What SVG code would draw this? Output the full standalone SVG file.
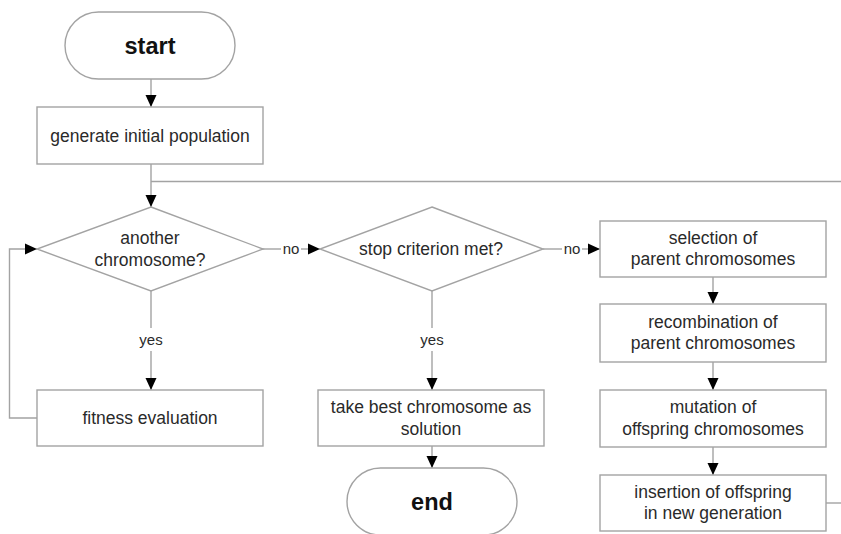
<svg xmlns="http://www.w3.org/2000/svg" width="841" height="534" viewBox="0 0 841 534">
  <style>
    .shape { fill: #ffffff; stroke: #a3a3a3; stroke-width: 1.4; }
    .wire { fill: none; stroke: #a3a3a3; stroke-width: 1.4; }
    .txt { font-family: "Liberation Sans", Arial, sans-serif; font-size: 17.5px; fill: #2a2a2a; text-anchor: middle; }
    .term { font-family: "Liberation Sans", Arial, sans-serif; font-size: 23.5px; font-weight: bold; fill: #111111; text-anchor: middle; }
    .lbl { font-family: "Liberation Sans", Arial, sans-serif; font-size: 15px; fill: #2a2a2a; text-anchor: middle; }
  </style>
  <defs>
    <marker id="arrow" markerUnits="userSpaceOnUse" markerWidth="12" markerHeight="12" viewBox="0 0 12 12" refX="12" refY="6" orient="auto">
      <path d="M0,0.5 L12,6 L0,11.5 Z" fill="#000000"/>
    </marker>
  </defs>
  <rect width="841" height="534" fill="#ffffff"/>

  <g id="connectors">
    <!-- start -> generate -->
    <line class="wire" x1="151" y1="79" x2="151" y2="107" marker-end="url(#arrow)"/>
    <!-- generate -> decision 1 -->
    <line class="wire" x1="151" y1="164" x2="151" y2="207" marker-end="url(#arrow)"/>
    <!-- return line from new generation -->
    <polyline class="wire" points="151,181.5 841,181.5"/>
    <polyline class="wire" points="826,503 841,503"/>
    <!-- decision 1 no -> decision 2 -->
    <line class="wire" x1="262" y1="249" x2="281" y2="249"/>
    <line class="wire" x1="301" y1="249" x2="320" y2="249" marker-end="url(#arrow)"/>
    <text class="lbl" x="291" y="254">no</text>
    <!-- decision 1 yes -> fitness -->
    <line class="wire" x1="151" y1="291" x2="151" y2="328"/>
    <line class="wire" x1="151" y1="351" x2="151" y2="390" marker-end="url(#arrow)"/>
    <text class="lbl" x="151" y="345">yes</text>
    <!-- fitness loop back -->
    <polyline class="wire" points="37,418 9.5,418 9.5,249 37,249" marker-end="url(#arrow)"/>
    <!-- decision 2 no -> selection -->
    <line class="wire" x1="543" y1="249" x2="562" y2="249"/>
    <line class="wire" x1="582" y1="249" x2="600" y2="249" marker-end="url(#arrow)"/>
    <text class="lbl" x="572" y="254">no</text>
    <!-- decision 2 yes -> take best -->
    <line class="wire" x1="432" y1="291" x2="432" y2="328"/>
    <line class="wire" x1="432" y1="351" x2="432" y2="390" marker-end="url(#arrow)"/>
    <text class="lbl" x="432" y="345">yes</text>
    <!-- take best -> end -->
    <line class="wire" x1="432" y1="446" x2="432" y2="468" marker-end="url(#arrow)"/>
    <!-- right column chain -->
    <line class="wire" x1="713" y1="277" x2="713" y2="304" marker-end="url(#arrow)"/>
    <line class="wire" x1="713" y1="362" x2="713" y2="390" marker-end="url(#arrow)"/>
    <line class="wire" x1="713" y1="447" x2="713" y2="475" marker-end="url(#arrow)"/>
  </g>

  <g id="start">
    <rect class="shape" x="65" y="12" width="170" height="67" rx="33.5"/>
    <text class="term" x="150" y="54">start</text>
  </g>

  <g id="generate">
    <rect class="shape" x="37" y="107" width="226" height="57"/>
    <text class="txt" x="150" y="142">generate initial population</text>
  </g>

  <g id="another-chromosome">
    <polygon class="shape" points="151,207 263,249 151,291 37,249"/>
    <text class="txt" x="150" y="244">another</text>
    <text class="txt" x="150" y="266">chromosome?</text>
  </g>

  <g id="fitness">
    <rect class="shape" x="37" y="390" width="226" height="56"/>
    <text class="txt" x="150" y="424">fitness evaluation</text>
  </g>

  <g id="stop-criterion">
    <polygon class="shape" points="432,207 543,249 432,291 320,249"/>
    <text class="txt" x="431" y="255">stop criterion met?</text>
  </g>

  <g id="take-best">
    <rect class="shape" x="318" y="390" width="226" height="56"/>
    <text class="txt" x="431" y="413">take best chromosome as</text>
    <text class="txt" x="431" y="435">solution</text>
  </g>

  <g id="end">
    <rect class="shape" x="347" y="468" width="170" height="67" rx="33.5"/>
    <text class="term" x="432" y="510">end</text>
  </g>

  <g id="selection">
    <rect class="shape" x="600" y="221" width="226" height="56"/>
    <text class="txt" x="713" y="244">selection of</text>
    <text class="txt" x="713" y="265">parent chromosomes</text>
  </g>

  <g id="recombination">
    <rect class="shape" x="600" y="304" width="226" height="58"/>
    <text class="txt" x="713" y="328">recombination of</text>
    <text class="txt" x="713" y="349">parent chromosomes</text>
  </g>

  <g id="mutation">
    <rect class="shape" x="600" y="390" width="226" height="57"/>
    <text class="txt" x="713" y="413">mutation of</text>
    <text class="txt" x="713" y="435">offspring chromosomes</text>
  </g>

  <g id="insertion">
    <rect class="shape" x="600" y="475" width="226" height="56"/>
    <text class="txt" x="713" y="498">insertion of offspring</text>
    <text class="txt" x="713" y="519">in new generation</text>
  </g>
</svg>
